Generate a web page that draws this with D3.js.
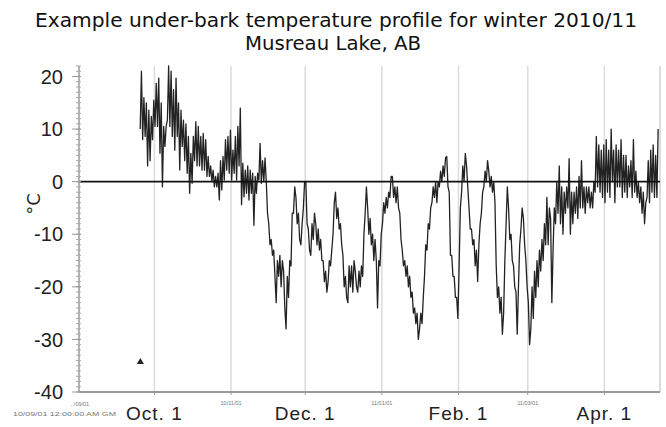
<!DOCTYPE html>
<html><head><meta charset="utf-8">
<script src="https://cdn.jsdelivr.net/npm/d3@7"></script>
<style>body{margin:0;background:#fff}svg{display:block}</style>
</head><body><svg id="c" width="666" height="427"></svg>
<script>
// ---------- data ----------
const titleLines = ["Example under-bark temperature profile for winter 2010/11", "Musreau Lake, AB"];
const yLabel = "°C";
const seriesStart = "2010-09-25T00:00:00Z";   // first sample day, two samples per day
// under-bark temperature (°C), two readings per day
const temps = [
  10,21, 8,16, 8.6,15, 3,13.6, 4,12.4, 8,15.5,                     // Sep 25-30
  10.5,18.7, 10.5,19.7, 5.4,15, -1,10.5, 6.7,10.5, 11.7,22, 10.5,21, 8.6,17.5, 6,19.7, 8.6,15, // Oct 1-10
  2.2,13.6, 6.7,11.7, 4,11, 1.6,8.6, -2.2,5.4, -0.3,8.6, 4,11.4, 3,10.5, 3,8.6, 2.2,9.2,        // Oct 11-20
  2.2,8, 1,4.8, 1,3, 0,2.2, -1,1, -1,1.6, -3.5,4, -1.6,4.8, 0.3,8, 2.2,8.6, 1.6,9.8,             // Oct 21-31
  0.3,6, 1.6,8.6, 0.3,10.5, 3,14, -4.4,3.5, -2.9,2.2, -2.2,3, -3.5,2.2, -2.2,1.6, -8.3,1,       // Nov 1-10
  -2.2,1.6, 0.3,7.3, -0.3,4, 0,4.5, 0,-6, -8,-12, -11,-14, -13,-18, -23,-15, -18,-14,          // Nov 11-20
  -20,-15, -17,-24, -28,-18, -22,-15, -16,-6, -6,-1, -3,-8, -6,-11, -12,-8, -5,0,               // Nov 21-30
  0,-8, -9,-13, -14,-8, -11,-6, -8,-12, -9,-13, -11,-15, -15,-19, -17,-21, -19,-15,            // Dec 1-10
  -16,-13, -10,-4, -2,-7, -5,-9, -8,-12, -14,-20, -18,-22, -23,-16, -20,-16, -21,-15,          // Dec 11-20
  -17,-20, -21,-17, -20,-16, -18,-10, -6,-1, -5,-10, -7,-12, -10,-15, -11,-15, -24,-15, -16,-10, // Dec 21-31
  -8,-4, -6,-3, -5,-2, -3,1, 1,-3, -1,-4, -1,-5, -6,-11, -13,-16, -15,-18,                    // Jan 1-10
  -16,-20, -18,-22, -21,-25, -24,-27, -25,-30, -28,-25, -27,-22, -18,-12, -13,-8, -9,-5,       // Jan 11-20
  -4,-1, -3,0, -4,0, -1,2, 0,3, 1,4.5, 4.8,-1, -2,-14, -14,-18, -18,-22, -22,-26,              // Jan 21-31
  -16,-5, -2,3, 0,5.4, 3,-1, -5,-9, -9,-12, -11,-16, -13,-19, -12,-8, -6,-2,                   // Feb 1-10
  -1,2, 0,4, 2,-1, 1,-2, 0,-4, -16,-22, -20,-25, -22,-29, -25,-15, -8,-1,                      // Feb 11-20
  -5,-11, -10,-15, -16,-20, -21,-29, -20,-12, -9,-5, -7,-12, -15,-20,                          // Feb 21-28
  -23,-31, -28,-20, -26,-17, -22,-15, -20,-13, -17,-11, -15,-8, -12,-3, -12,-5, -7,-23,        // Mar 1-10
  -13,-5, -8,0, -6,3, -8,-1, -10,-2, -6,-1, -5,4.4, -10,-2, -8,-2, -6,-1,                      // Mar 11-20
  -7,1, -5,4, -5,-1, -6,-1, -4,-1, -5,-2, -5,0, -2,8.6, -1,7, -2,6, -3,7,                      // Mar 21-31
  -4,8, -2,6, -3,10, 0,6, -4,7, -1,6, -1,8, -3,5, -2,5, -3,3,                                  // Apr 1-10
  -1,4, -3,8, -2,2, -3,0, -4,-1, -6,-2, -8,-4, -3,4, -4,6, -2,7, -3,5, -3,10                   // Apr 11-22
];
const gridDates = ["2010-10-01","2010-11-01","2010-12-01","2011-01-01","2011-02-01","2011-03-01","2011-04-01"];
const majorLabelDates = ["2010-10-01","2010-12-01","2011-02-01","2011-04-01"];
const majorLabelTexts = ["Oct. 1","Dec. 1","Feb. 1","Apr. 1"];
const minorLabelDates = ["2010-11-01","2011-01-01","2011-03-01"];
const minorLabelTexts = ["10/11/01","11/01/01","11/03/01"];
const yTickValues = [-40,-30,-20,-10,0,10,20];
const markerDates = ["2010-09-25T08:00:00Z"];
const markerValues = [-34.3];
const startStampText = "10/09/01 12:00:00 AM GM";
const startShortText = "../09/01";

// ---------- chart ----------
(function () {
const svg = d3.select("#c");
const L = 79, R = 660, T = 66, B = 392;
const x = d3.scaleUtc()
  .domain([new Date(Date.UTC(2010,7,31,12)), new Date(Date.UTC(2011,3,23,12))])
  .range([L, R]);
const y = d3.scaleLinear().domain([-40, 22]).range([B, T]);
const parse = s => new Date(s.length === 10 ? s + "T00:00:00Z" : s);
const t0 = parse(seriesStart).getTime();
const DAY = 86400000;
const pts = temps.map((v, i) => ({ t: new Date(t0 + (i * 0.5 + 0.25) * DAY), v }));

// title
const title = svg.append("g").attr("font-family", "'Comic Sans MS','DejaVu Sans',sans-serif").attr("fill", "#111").attr("text-anchor", "middle");
title.append("text").attr("x", 336).attr("y", 27).attr("font-size", 19)
  .attr("textLength", 602).attr("lengthAdjust", "spacingAndGlyphs").text(titleLines[0]);
title.append("text").attr("x", 333).attr("y", 50).attr("font-size", 19)
  .attr("textLength", 176).attr("lengthAdjust", "spacingAndGlyphs").text(titleLines[1]);

// vertical grid lines
svg.append("g").selectAll("line").data(gridDates).join("line")
  .attr("x1", d => x(parse(d))).attr("x2", d => x(parse(d)))
  .attr("y1", T).attr("y2", B)
  .attr("stroke", "#dcdcdc").attr("stroke-width", 1.5);
// right border
svg.append("line").attr("x1", R).attr("x2", R).attr("y1", T).attr("y2", B)
  .attr("stroke", "#d0d0d0").attr("stroke-width", 1.5);

// data line
svg.append("path").datum(pts)
  .attr("d", d3.line().x(d => x(d.t)).y(d => y(d.v)))
  .attr("fill", "none").attr("stroke", "#222").attr("stroke-width", 1.3).attr("stroke-linejoin", "round");

// zero line
svg.append("line").attr("x1", L).attr("x2", R).attr("y1", y(0)).attr("y2", y(0))
  .attr("stroke", "#111").attr("stroke-width", 1.8);

// y axis
const yAx = svg.append("g");
yAx.append("line").attr("x1", L).attr("x2", L).attr("y1", T).attr("y2", B)
  .attr("stroke", "#9a9a9a").attr("stroke-width", 1.5);
yAx.selectAll("line.minor").data(d3.range(-40, 23, 1)).join("line").attr("class", "minor")
  .attr("x1", L - 3).attr("x2", L + 2).attr("y1", d => y(d)).attr("y2", d => y(d))
  .attr("stroke", "#a8a8a8").attr("stroke-width", 1);
yAx.selectAll("line.major").data(yTickValues).join("line").attr("class", "major")
  .attr("x1", L - 7).attr("x2", L + 2).attr("y1", d => y(d)).attr("y2", d => y(d))
  .attr("stroke", "#999").attr("stroke-width", 1);
yAx.selectAll("text").data(yTickValues).join("text")
  .attr("x", 63).attr("y", d => y(d)).attr("dy", "0.36em").attr("text-anchor", "end")
  .attr("font-family", "'Liberation Sans',Arial,sans-serif").attr("font-size", 20).attr("fill", "#222")
  .text(d => d);
svg.append("text").attr("transform", "translate(40,204) rotate(-90)").attr("text-anchor", "middle")
  .attr("font-family", "'DejaVu Sans',sans-serif").attr("font-size", 18).attr("fill", "#222").text(yLabel);

// x axis
const xAx = svg.append("g");
xAx.append("line").attr("x1", L).attr("x2", R).attr("y1", B).attr("y2", B)
  .attr("stroke", "#999").attr("stroke-width", 2);
xAx.selectAll("line.t").data(gridDates).join("line").attr("class", "t")
  .attr("x1", d => x(parse(d))).attr("x2", d => x(parse(d))).attr("y1", B).attr("y2", B + 3)
  .attr("stroke", "#999");
xAx.selectAll("text.major").data(majorLabelDates).join("text").attr("class", "major")
  .attr("x", d => x(parse(d))).attr("y", 420).attr("text-anchor", "middle")
  .attr("font-family", "'Liberation Sans',Arial,sans-serif").attr("font-size", 19).attr("letter-spacing", 1)
  .attr("fill", "#222").text((d, i) => majorLabelTexts[i]);
xAx.selectAll("text.minor").data(minorLabelDates).join("text").attr("class", "minor")
  .attr("x", d => x(parse(d))).attr("y", 405).attr("text-anchor", "middle")
  .attr("font-family", "'Liberation Sans',Arial,sans-serif").attr("font-size", 5.5)
  .attr("fill", "#777").text((d, i) => minorLabelTexts[i]);
svg.append("text").attr("x", 80).attr("y", 406).attr("text-anchor", "middle")
  .attr("font-family", "'Liberation Sans',Arial,sans-serif").attr("font-size", 5.5).attr("fill", "#777").text(startShortText);
svg.append("text").attr("x", 13).attr("y", 416)
  .attr("font-family", "'Liberation Sans',Arial,sans-serif").attr("font-size", 6).attr("fill", "#777")
  .attr("textLength", 103).attr("lengthAdjust", "spacingAndGlyphs").text(startStampText);

// marker triangle
const tri = d3.symbol().type(d3.symbolTriangle).size(22);
svg.append("g").selectAll("path").data(markerDates).join("path")
  .attr("transform", (d, i) => `translate(${x(parse(d))},${y(markerValues[i])})`)
  .attr("d", tri).attr("fill", "#222");
})();
</script></body></html>
